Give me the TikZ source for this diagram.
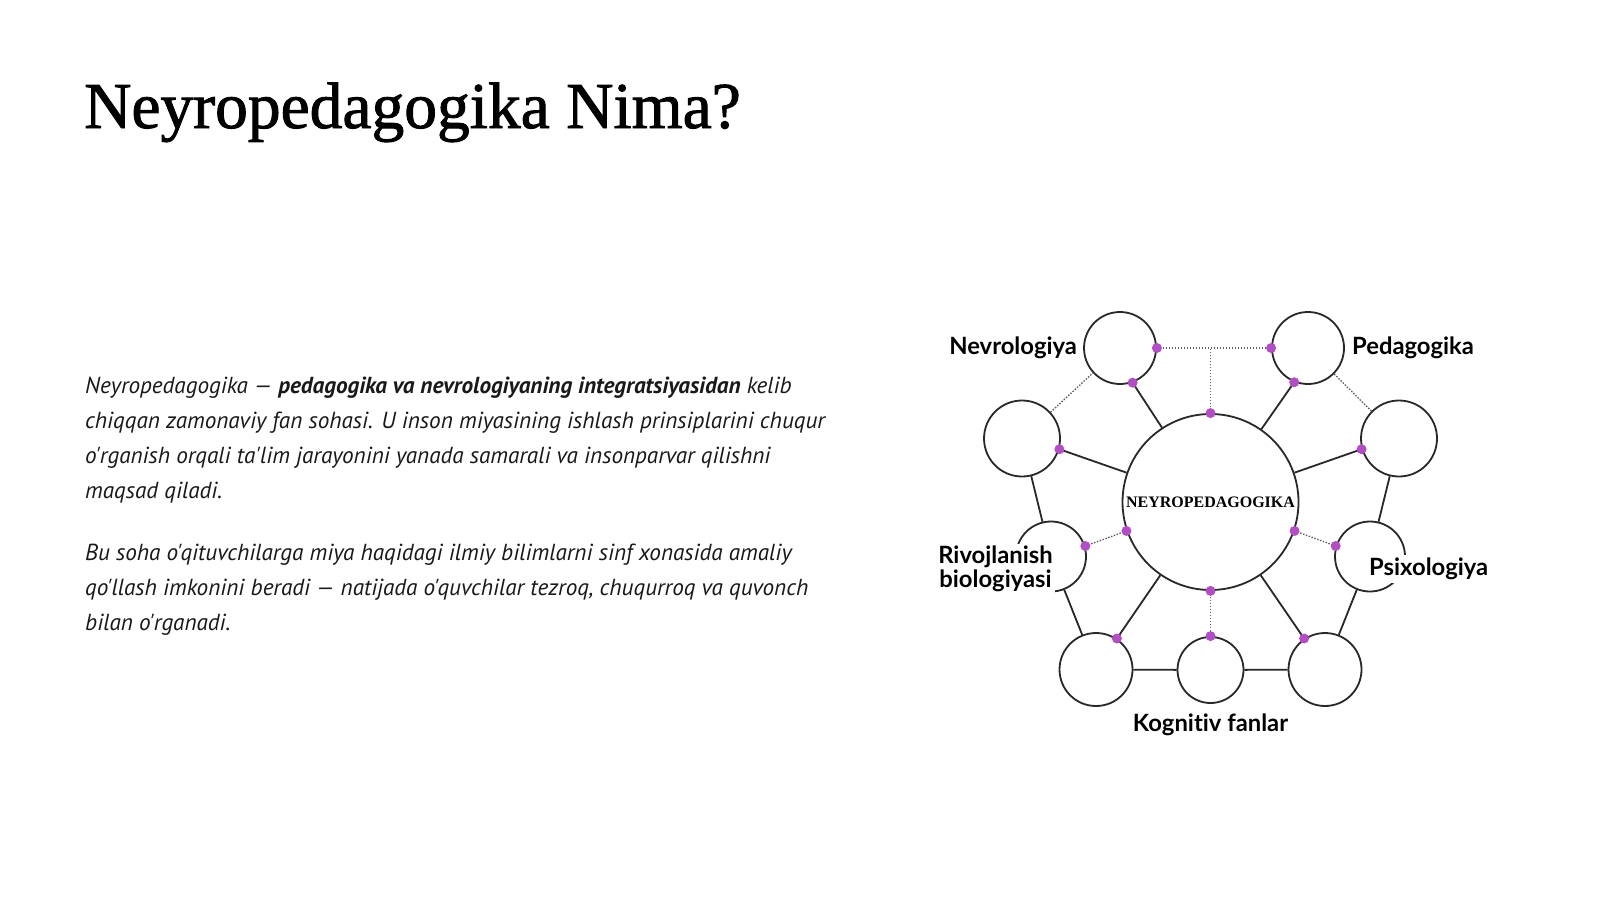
\documentclass[tikz,border=0pt]{standalone}
\usepackage{fontspec}
\setmainfont{Liberation Serif}
\newfontfamily\sansf{PT Sans}
\newfontfamily\lblf{Lato}[Ligatures=CommonOff]
\newfontfamily\titlef{Liberation Serif}[FakeBold=1.4]
\usetikzlibrary{positioning}
\definecolor{dotpurple}{RGB}{178,78,196}
\definecolor{inkgray}{RGB}{40,40,40}

\begin{document}
\begin{tikzpicture}[x=1pt, y=-1pt,
  ring/.style={circle, draw=inkgray, line width=1.8pt, fill=white, inner sep=0pt},
  link/.style={draw=inkgray, line width=1.8pt},
  faint/.style={draw=inkgray!75, line width=1.3pt, dash pattern=on 1.5pt off 1.5pt},
  lbl/.style={font=\lblf\bfseries\fontsize{23.8}{23.5}\selectfont, text=black, inner sep=3pt},
  body/.style={font=\sansf\itshape\fontsize{23.2}{35}\selectfont, text=black!90, align=left, inner sep=0pt}]
\useasboundingbox[fill=white] (0,0) rectangle (1600,900);

% title and text
\node[anchor=base west, font=\titlef\fontsize{65.5}{70}\selectfont, inner sep=0pt] (title) at (84,128) {Neyropedagogika Nima?};
\node[body, anchor=base west] (para1) at (85,498) {Neyropedagogika — \textbf{pedagogika va nevrologiyaning integratsiyasidan} kelib\\
chiqqan zamonaviy fan sohasi. U inson miyasining ishlash prinsiplarini chuqur\\
o'rganish orqali ta'lim jarayonini yanada samarali va insonparvar qilishni\\
maqsad qiladi.};
\node[body, anchor=base west] (para2) at (85,630) {Bu soha o'qituvchilarga miya haqidagi ilmiy bilimlarni sinf xonasida amaliy\\
qo'llash imkonini beradi — natijada o'quvchilar tezroq, chuqurroq va quvonch\\
bilan o'rganadi.};

% circles
\node[ring, minimum size=176pt, font=\bfseries\fontsize{16}{16}\selectfont] (neuro) at (1210.5,502) {NEYROPEDAGOGIKA};
\node[ring, minimum size=72pt] (nevro) at (1120,348) {};
\node[ring, minimum size=72pt] (peda) at (1308,348) {};
\node[ring, minimum size=76pt] (chap) at (1022,438.5) {};
\node[ring, minimum size=76pt] (ong) at (1399,438.5) {};
\node[ring, minimum size=70pt] (rivoj) at (1051,556.5) {};
\node[ring, minimum size=70pt] (psix) at (1370,556.5) {};
\node[ring, minimum size=73pt] (pastchap) at (1096,669.5) {};
\node[ring, minimum size=66pt] (kogn) at (1210.5,670) {};
\node[ring, minimum size=73pt] (pastong) at (1325,669.5) {};

% dot places
\coordinate (nevroB) at (nevro.-70);
\coordinate (nevroR) at (nevro.0);
\coordinate (pedaB) at (peda.-112);
\coordinate (pedaL) at (peda.180);
\coordinate (chapD) at (chap.-16);
\coordinate (ongD) at (ong.-164);
\coordinate (rivojD) at (rivoj.17);
\coordinate (psixD) at (psix.163);
\coordinate (pchapD) at (pastchap.56);
\coordinate (pongD) at (pastong.124);
\coordinate (kognT) at (kogn.90);
\coordinate (neuroT) at (neuro.90);
\coordinate (neuroB) at (neuro.-90);
\coordinate (neuroL) at (neuro.-161);
\coordinate (neuroR) at (neuro.-19);
\coordinate (topjoin) at (neuroT |- nevroR);

% spokes
\draw[link] (neuro) -- (nevroB);
\draw[link] (neuro) -- (pedaB);
\draw[link] (neuro) -- (chapD);
\draw[link] (neuro) -- (ongD);
\draw[link] (neuro) -- (pchapD);
\draw[link] (neuro) -- (pongD);
\draw[faint] (neuroL) -- (rivojD);
\draw[faint] (neuroR) -- (psixD);
\draw[faint] (neuroB) -- (kognT);
\draw[faint] (nevroR) -- (pedaL);
\draw[faint] (neuroT) -- (topjoin);

% outer ring
\draw[faint] (chap) -- (nevro);
\draw[link] (chap) -- (rivoj);
\draw[link] (rivoj) -- (pastchap);
\draw[link] (pastchap) -- (kogn);
\draw[link] (kogn) -- (pastong);
\draw[link] (pastong) -- (psix);
\draw[link] (psix) -- (ong);
\draw[faint] (ong) -- (peda);

% labels
\node[lbl, left=3pt of nevro] (nevrolbl) {Nevrologiya};
\node[lbl, right=4pt of peda] (pedalbl) {Pedagogika};
\node[lbl, align=center, fill=white, inner sep=2pt] (rivojlbl) at (995.5,569) {Rivojlanish\\biologiyasi};
\node[lbl, fill=white, anchor=west] (psixlbl) at (1366,568.5) {Psixologiya};
\node[lbl, below=7pt of kogn] (kognlbl) {Kognitiv fanlar};

% dots
\foreach \d in {nevroB,nevroR,pedaB,pedaL,chapD,ongD,rivojD,psixD,pchapD,pongD,kognT,neuroT,neuroB,neuroL,neuroR}
  \fill[dotpurple] (\d) circle (5pt);
\end{tikzpicture}
\end{document}
